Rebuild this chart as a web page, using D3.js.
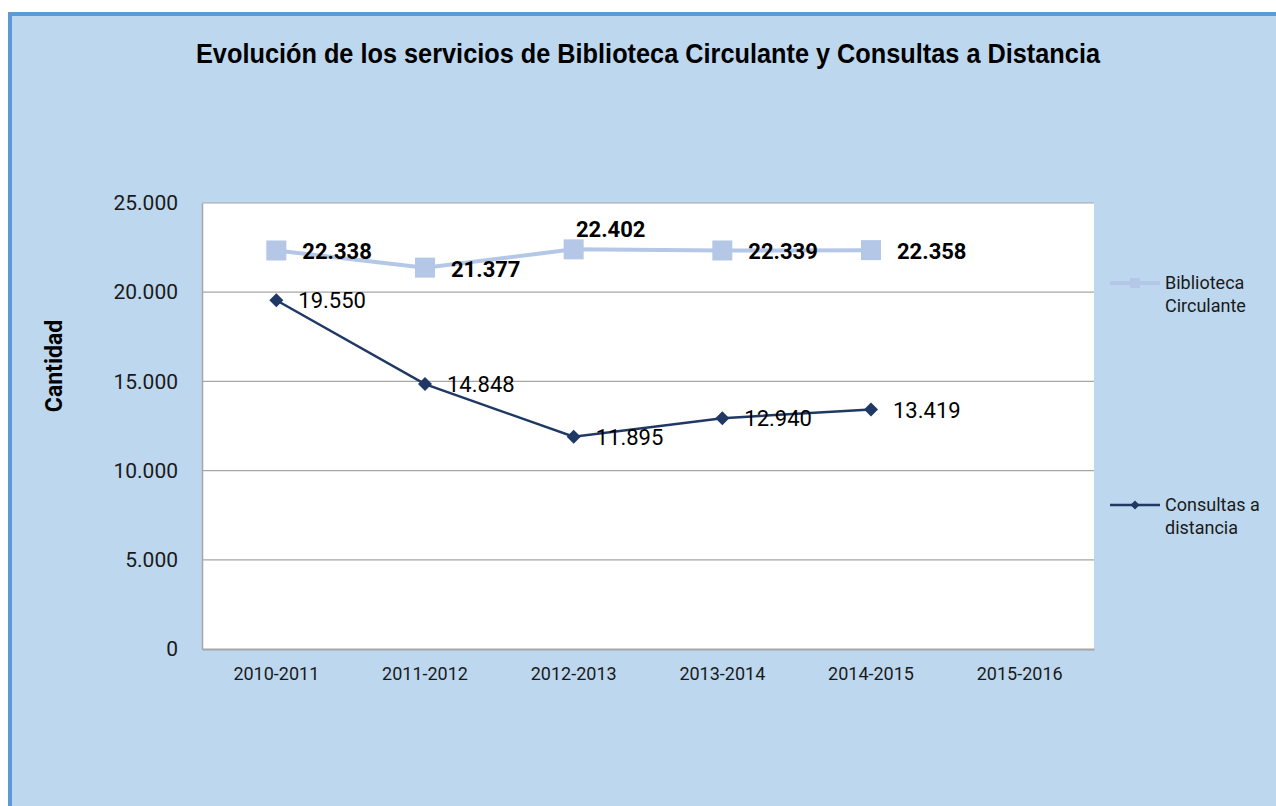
<!DOCTYPE html>
<html>
<head>
<meta charset="utf-8">
<script src="https://cdn.jsdelivr.net/npm/d3@7"></script>
<style>
  html, body { margin: 0; padding: 0; background: #ffffff; }
  svg { display: block; font-family: Roboto, "Liberation Sans", sans-serif; }
</style>
</head>
<body>
<svg id="chart"></svg>
<script>
const categories = ["2010-2011", "2011-2012", "2012-2013", "2013-2014", "2014-2015", "2015-2016"];
const biblioteca = [22338, 21377, 22402, 22339, 22358, null];
const consultas = [19550, 14848, 11895, 12940, 13419, null];
const yTicks = [0, 5000, 10000, 15000, 20000, 25000];

const width = 1276, height = 806;
const plot = { left: 202, top: 203, right: 1094, bottom: 649 };

const svg = d3.select("#chart")
    .attr("width", width)
    .attr("height", height);

// outer frame
svg.append("rect")
    .attr("x", 10).attr("y", 14)
    .attr("width", width).attr("height", height)
    .attr("fill", "#bdd7ee")
    .attr("stroke", "#5b9bd5")
    .attr("stroke-width", 4);

svg.append("text")
    .attr("x", 648).attr("y", 63)
    .attr("text-anchor", "middle")
    .attr("font-family", "'Liberation Sans Narrow', 'Liberation Sans', sans-serif")
    .attr("font-weight", "bold")
    .attr("font-size", 27)
    .attr("textLength", 904)
    .attr("lengthAdjust", "spacingAndGlyphs")
    .attr("fill", "#000")
    .text("Evolución de los servicios de Biblioteca Circulante y Consultas a Distancia");

const x = d3.scaleBand()
    .domain(categories)
    .range([plot.left, plot.right]);

const y = d3.scaleLinear()
    .domain([0, 25000])
    .range([plot.bottom, plot.top]);

const fmt = v => d3.format(",")(v).replace(/,/g, ".");

svg.append("rect")
    .attr("x", plot.left).attr("y", plot.top)
    .attr("width", plot.right - plot.left)
    .attr("height", plot.bottom - plot.top)
    .attr("fill", "#ffffff");

// gridlines
svg.append("g")
    .selectAll("line")
    .data(yTicks.filter(d => d > 0))
    .join("line")
    .attr("x1", plot.left).attr("x2", plot.right)
    .attr("y1", d => y(d)).attr("y2", d => y(d))
    .attr("stroke", "#a6a6a6")
    .attr("stroke-width", 1.2);

// axes
const yAxis = svg.append("g")
    .attr("transform", `translate(${plot.left},0)`)
    .call(d3.axisLeft(y).tickValues(yTicks).tickFormat(fmt).tickSize(0).tickPadding(24));
yAxis.select(".domain").attr("stroke", "#a6a6a6").attr("stroke-width", 1.5);
yAxis.selectAll("text").attr("font-size", 21).attr("fill", "#1a1a1a").attr("font-family", "Roboto, sans-serif");

const xAxis = svg.append("g")
    .attr("transform", `translate(0,${plot.bottom})`)
    .call(d3.axisBottom(x).tickSize(0).tickPadding(18));
xAxis.select(".domain").attr("stroke", "#a6a6a6").attr("stroke-width", 2);
xAxis.selectAll("text").attr("font-size", 18).attr("fill", "#1a1a1a").attr("font-family", "Roboto, sans-serif");

svg.append("text")
    .attr("transform", "translate(62,366) rotate(-90)")
    .attr("text-anchor", "middle")
    .attr("font-weight", "bold")
    .attr("font-size", 23)
    .attr("fill", "#000")
    .text("Cantidad");

const cx = d => x(d) + x.bandwidth() / 2;

const line = d3.line()
    .defined(d => d.v != null)
    .x(d => cx(d.c))
    .y(d => y(d.v));

const bData = categories.map((c, i) => ({ c, v: biblioteca[i] }));
const cData = categories.map((c, i) => ({ c, v: consultas[i] }));

// Biblioteca Circulante
svg.append("path")
    .datum(bData)
    .attr("fill", "none")
    .attr("stroke", "#b4c7e7")
    .attr("stroke-width", 4)
    .attr("d", line);

svg.append("g")
    .selectAll("rect")
    .data(bData.filter(d => d.v != null))
    .join("rect")
    .attr("x", d => cx(d.c) - 10)
    .attr("y", d => y(d.v) - 10)
    .attr("width", 20).attr("height", 20)
    .attr("fill", "#b4c7e7");

// label offsets: third point's label sits above
const bLabelPos = ["right", "right", "above", "right", "right", "right"];
svg.append("g")
    .selectAll("text")
    .data(bData.filter(d => d.v != null))
    .join("text")
    .attr("x", (d, i) => bLabelPos[i] === "above" ? cx(d.c) + 37 : cx(d.c) + 26)
    .attr("y", (d, i) => bLabelPos[i] === "above" ? y(d.v) - 12 : y(d.v) + 9)
    .attr("text-anchor", (d, i) => bLabelPos[i] === "above" ? "middle" : "start")
    .attr("font-weight", "bold")
    .attr("font-size", 22)
    .attr("fill", "#000")
    .text(d => fmt(d.v));

// Consultas a distancia
svg.append("path")
    .datum(cData)
    .attr("fill", "none")
    .attr("stroke", "#1f3864")
    .attr("stroke-width", 2.5)
    .attr("d", line);

const diamond = r => `M0,${-r}L${r},0L0,${r}L${-r},0Z`;

svg.append("g")
    .selectAll("path")
    .data(cData.filter(d => d.v != null))
    .join("path")
    .attr("transform", d => `translate(${cx(d.c)},${y(d.v)})`)
    .attr("d", diamond(7))
    .attr("fill", "#1f3864");

svg.append("g")
    .selectAll("text")
    .data(cData.filter(d => d.v != null))
    .join("text")
    .attr("x", d => cx(d.c) + 22)
    .attr("y", d => y(d.v) + 8)
    .attr("font-size", 22)
    .attr("fill", "#000")
    .text(d => fmt(d.v));

// legend
const legend = [
  { name: ["Biblioteca", "Circulante"], y: 283, color: "#b4c7e7", marker: "square" },
  { name: ["Consultas a", "distancia"], y: 505, color: "#1f3864", marker: "diamond" }
];
const lg = svg.append("g").selectAll("g").data(legend).join("g")
    .attr("transform", d => `translate(1110,${d.y})`);
lg.append("line")
    .attr("x1", 0).attr("x2", 50)
    .attr("stroke", d => d.color)
    .attr("stroke-width", d => d.marker === "square" ? 4 : 2.5);
lg.filter(d => d.marker === "square").append("rect")
    .attr("x", 20).attr("y", -5).attr("width", 10).attr("height", 10)
    .attr("fill", d => d.color);
lg.filter(d => d.marker === "diamond").append("path")
    .attr("transform", "translate(25,0)")
    .attr("d", diamond(4.5))
    .attr("fill", d => d.color);
lg.append("text")
    .attr("x", 55).attr("y", 6)
    .attr("font-size", 18)
    .attr("fill", "#1a1a1a")
    .selectAll("tspan")
    .data(d => d.name)
    .join("tspan")
    .attr("x", 55)
    .attr("dy", (d, i) => i === 0 ? 0 : 23)
    .text(d => d);
</script>
</body>
</html>
